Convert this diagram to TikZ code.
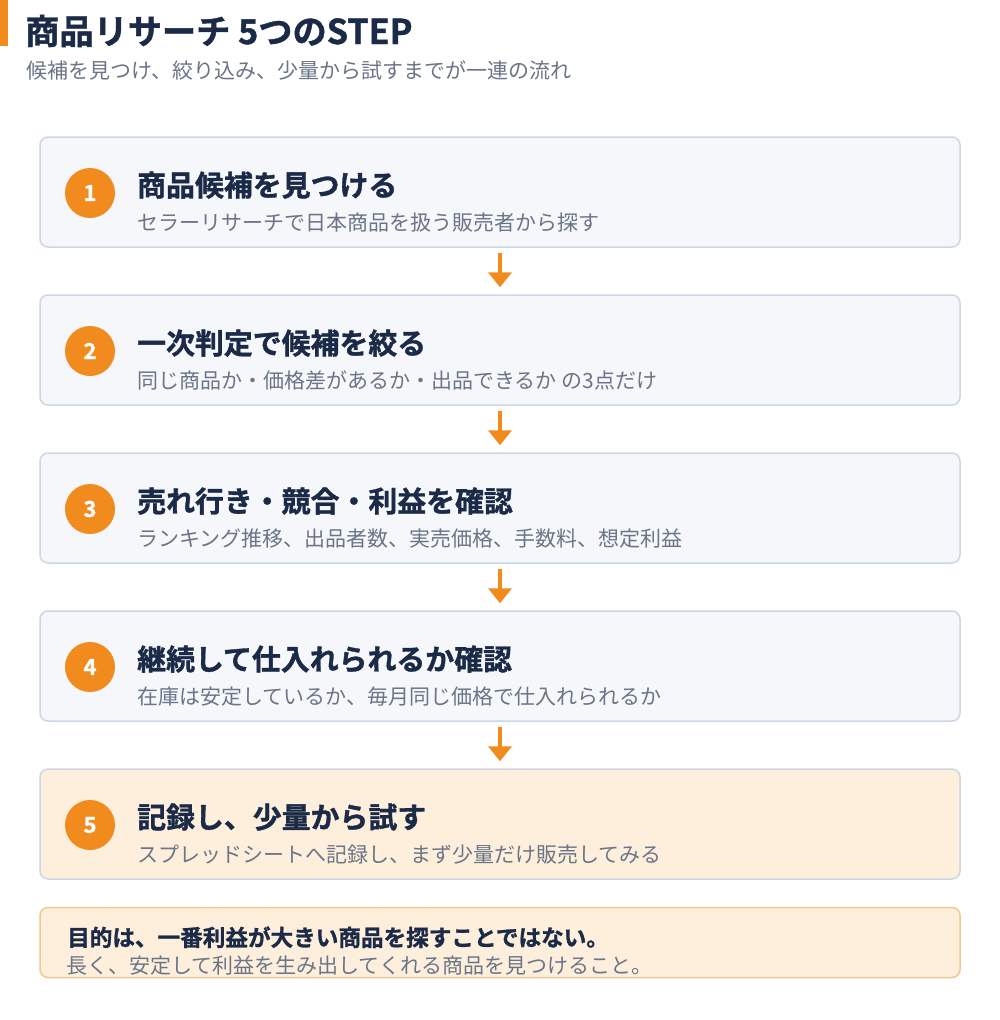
\documentclass[tikz,border=0pt]{standalone}
\usepackage{fontspec}
\setmainfont{Noto Sans CJK JP}[BoldFont={Noto Sans CJK JP Bold}, BoldFeatures={FakeBold=1.2}]
\usetikzlibrary{arrows.meta}
\definecolor{navy}{HTML}{1B2A47}
\definecolor{graytxt}{HTML}{6B7587}
\definecolor{orng}{HTML}{F28B1E}
\definecolor{boxfill}{HTML}{F5F7FB}
\definecolor{boxline}{HTML}{CDD6E3}
\definecolor{hifill}{HTML}{FDEFDC}
\definecolor{hiline}{HTML}{EFC994}
\tikzset{
  stepbox/.style={draw=boxline, line width=1.5pt, fill=boxfill, rounded corners=8pt, minimum width=920pt, minimum height=110pt, inner sep=0pt},
  numcirc/.style={circle, fill=orng, minimum size=50pt, inner sep=0pt, text=white, font=\bfseries\fontsize{22}{24}\selectfont},
  steptitle/.style={anchor=base west, inner sep=0pt, text=navy, font=\bfseries\fontsize{28.9}{32}\selectfont},
  stepsub/.style={anchor=base west, inner sep=0pt, text=graytxt, font=\fontsize{21}{24}\selectfont},
  flowarr/.style={draw=orng, line width=4pt, -{Triangle[width=23pt,length=15pt]}},
}
\begin{document}
\begin{tikzpicture}[x=1pt,y=-1pt]
\useasboundingbox (0,0) rectangle (1000,1020);
\fill[white] (0,0) rectangle (1000,1020);
% header
\fill[orng] (0,0) rectangle (8,46);
\node[anchor=base west, inner sep=0pt, text=navy, font=\bfseries\fontsize{34.2}{38}\selectfont] (title) at (25,44) {商品リサーチ 5つのSTEP};
\node[anchor=base west, inner sep=0pt, text=graytxt, font=\fontsize{21}{24}\selectfont] (subtitle) at (26,78) {候補を見つけ、絞り込み、少量から試すまでが一連の流れ};
% steps
\node[stepbox] (b1) at (500,192) {};
\node[stepbox] (b2) at (500,350) {};
\node[stepbox] (b3) at (500,508) {};
\node[stepbox] (b4) at (500,666) {};
\node[stepbox, fill=hifill] (b5) at (500,824) {};
\node[numcirc] (c1) at (90,193) {1};
\node[numcirc] (c2) at (90,351) {2};
\node[numcirc] (c3) at (90,509) {3};
\node[numcirc] (c4) at (90,667) {4};
\node[numcirc] (c5) at (90,825) {5};
\node[steptitle] (t1) at (137,196) {商品候補を見つける};
\node[stepsub] (s1) at (137,230) {セラーリサーチで日本商品を扱う販売者から探す};
\node[steptitle] (t2) at (137,354) {一次判定で候補を絞る};
\node[stepsub] (s2) at (137,388) {同じ商品か・価格差があるか・出品できるか の3点だけ};
\node[steptitle] (t3) at (137,512) {売れ行き・競合・利益を確認};
\node[stepsub] (s3) at (137,546) {ランキング推移、出品者数、実売価格、手数料、想定利益};
\node[steptitle] (t4) at (137,670) {継続して仕入れられるか確認};
\node[stepsub] (s4) at (137,704) {在庫は安定しているか、毎月同じ価格で仕入れられるか};
\node[steptitle] (t5) at (137,828) {記録し、少量から試す};
\node[stepsub] (s5) at (137,862) {スプレッドシートへ記録し、まず少量だけ販売してみる};
% arrows
\draw[flowarr] ([yshift=-5pt]b1.south) -- ([yshift=7pt]b2.north);
\draw[flowarr] ([yshift=-5pt]b2.south) -- ([yshift=7pt]b3.north);
\draw[flowarr] ([yshift=-5pt]b3.south) -- ([yshift=7pt]b4.north);
\draw[flowarr] ([yshift=-5pt]b4.south) -- ([yshift=7pt]b5.north);
% bottom note
\node[draw=hiline, line width=1.5pt, fill=hifill, rounded corners=8pt, minimum width=920pt, minimum height=70pt, inner sep=0pt] (note) at (500,942.5) {};
\node[anchor=base west, inner sep=0pt, text=navy, font=\bfseries\fontsize{22.6}{26}\selectfont] (n1) at (67,946) {目的は、一番利益が大きい商品を探すことではない。};
\node[anchor=base west, inner sep=0pt, text=graytxt, font=\fontsize{21}{24}\selectfont] (n2) at (66,973) {長く、安定して利益を生み出してくれる商品を見つけること。};
\end{tikzpicture}
\end{document}
